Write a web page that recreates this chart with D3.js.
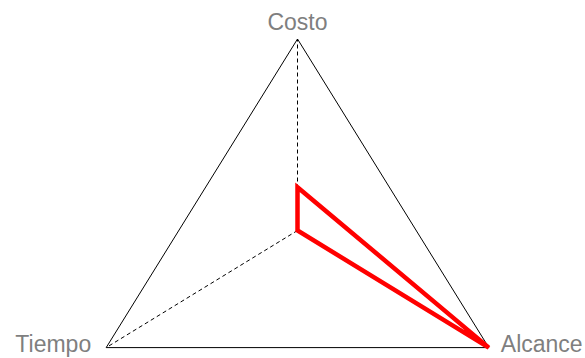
<!DOCTYPE html>
<html>
<head>
<meta charset="utf-8">
<script src="https://cdn.jsdelivr.net/npm/d3@7"></script>
<style>
  html, body { margin: 0; padding: 0; background: #fff; }
  svg { display: block; }
</style>
</head>
<body>
<svg id="chart" width="585" height="358"></svg>
<script>
// Data
const axes = ["Costo", "Alcance", "Tiempo"];
const values = [0.226, 1.0, 0.0];
const maxValue = 1;

const svg = d3.select("#chart");
const cx = 297.5, cy = 230.5;
const angles = [-90, 37.7, 142.3].map(a => a * Math.PI / 180);

const r = d3.scaleLinear().domain([0, maxValue]).range([0, 1]);
const x = d3.scaleLinear().domain([-1, 1]).range([cx - 241.8, cx + 241.8]);
const y = d3.scaleLinear().domain([-1, 1]).range([cy - 191.5, cy + 191.5]);

const pt = (i, v) => [x(r(v) * Math.cos(angles[i])), y(r(v) * Math.sin(angles[i]))];

// Outer triangle
const outer = axes.map((_, i) => pt(i, maxValue));
svg.append("path")
  .attr("d", d3.line()(outer) + "Z")
  .attr("fill", "none")
  .attr("stroke", "#000")
  .attr("stroke-width", 1);

// Dashed spokes
axes.forEach((_, i) => {
  const c = pt(i, 0), e = pt(i, maxValue);
  svg.append("line")
    .attr("x1", c[0]).attr("y1", c[1])
    .attr("x2", e[0]).attr("y2", e[1])
    .attr("stroke", "#000")
    .attr("stroke-width", 1)
    .attr("stroke-dasharray", "4,3");
});

// Data polygon
const poly = values.map((v, i) => pt(i, v));
svg.append("path")
  .attr("d", d3.line()(poly) + "Z")
  .attr("fill", "none")
  .attr("stroke", "#ff0000")
  .attr("stroke-width", 4.5)
  .attr("stroke-linejoin", "miter");

// Labels
const labelPos = [
  { dx: 0, dy: -9, anchor: "middle" },
  { dx: 12, dy: 4.5, anchor: "start" },
  { dx: -15, dy: 4.5, anchor: "end" }
];
axes.forEach((name, i) => {
  const e = pt(i, maxValue);
  svg.append("text")
    .attr("x", e[0] + labelPos[i].dx)
    .attr("y", e[1] + labelPos[i].dy)
    .attr("text-anchor", labelPos[i].anchor)
    .attr("font-family", "Liberation Sans, Arial, sans-serif")
    .attr("font-size", 23)
    .attr("fill", "#7f7f7f")
    .text(name);
});
</script>
</body>
</html>
